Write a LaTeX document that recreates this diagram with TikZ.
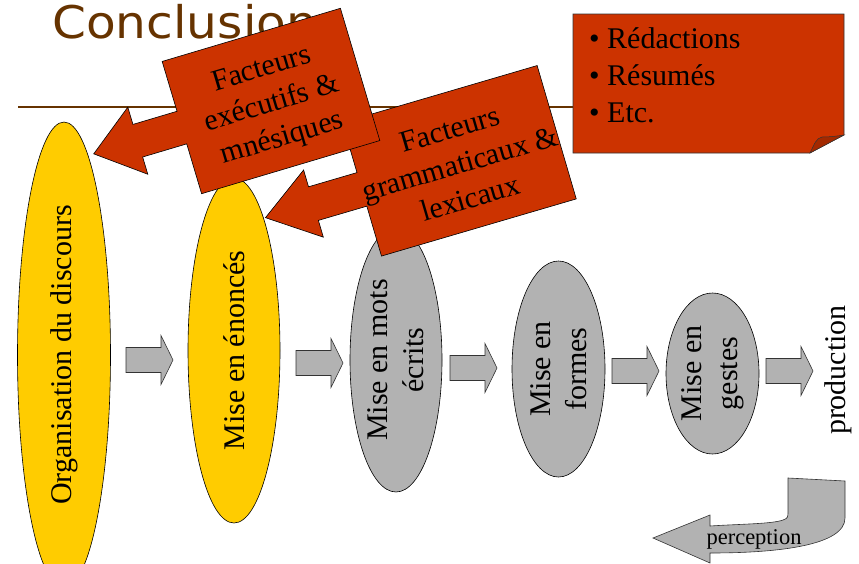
\documentclass[tikz,border=0pt]{standalone}
\usepackage{fontspec}
\setmainfont{Liberation Serif}
\newfontfamily\titlefont[FakeStretch=1.08]{DejaVu Sans}
\usetikzlibrary{shapes.geometric}
\definecolor{yellowE}{HTML}{FFCC00}
\definecolor{greyE}{HTML}{B2B2B2}
\definecolor{redC}{HTML}{CC3300}
\definecolor{foldC}{HTML}{A32900}
\definecolor{brownT}{HTML}{663300}
\definecolor{edgeG}{HTML}{333333}
\tikzset{
  ell/.style={ellipse, draw=black, line width=0.6pt, inner sep=0pt, rotate=90,
              align=center, font=\fontsize{30}{36}\selectfont},
  yell/.style={ell, fill=yellowE},
  gell/.style={ell, fill=greyE},
  blockarr/.style={fill=greyE, draw=edgeG, line width=0.6pt, line join=miter},
  calloutbox/.style={fill=redC, draw=black, line width=0.6pt},
  calltext/.style={align=center, inner sep=0pt, font=\fontsize{30}{36}\selectfont},
  bullettext/.style={anchor=base west, inner sep=0pt, font=\fontsize{30}{36}\selectfont},
  pics/blockarrow/.style={code={
    \filldraw[blockarr] (0,-12.5) -- (35,-12.5) -- (35,-24.5) -- (47,0)
      -- (35,24.5) -- (35,12.5) -- (0,12.5) -- cycle;}}
}
\begin{document}
\begin{tikzpicture}[x=1pt,y=-1pt]
\useasboundingbox (0,0) rectangle (859,563);
% title and rule
\node[anchor=base west, inner sep=0pt, text=brownT, font=\titlefont\fontsize{45}{50}\selectfont] (title) at (52,38) {Conclusions};
\draw[brownT, line width=1.5pt] (18,107) coordinate (r0) -- (820,107) coordinate (r1);
% ellipses
\node[yell, minimum width=466, minimum height=93] (e1) at (64,355) {Organisation du discours};
\node[yell, minimum width=345, minimum height=92] (e2) at (234,350.5) {Mise en énoncés};
\node[gell, minimum width=264, minimum height=92] (e3) at (396,360) {Mise en mots\\écrits};
\node[gell, minimum width=216, minimum height=93] (e4) at (558.5,369) {Mise en\\formes};
\node[gell, minimum width=161, minimum height=93] (e5) at (712.5,373.5) {Mise en\\gestes};
\node[rotate=90, inner sep=0pt, font=\fontsize{30}{36}\selectfont] (prod) at (838,370) {production};
% block arrows
\pic (a1) at (126,360) {blockarrow};
\pic (a2) at (296,363) {blockarrow};
\pic (a3) at (450,368) {blockarrow};
\pic (a4) at (612,371) {blockarrow};
\pic (a5) at (766,371) {blockarrow};
% note box with folded corner
\filldraw[fill=redC, draw=edgeG, line width=0.6pt] (573,14) -- (844,14) -- (844,135) -- (810,153) -- (573,153) -- cycle;
\filldraw[fill=foldC, draw=edgeG, line width=0.5pt] (810,153) .. controls (814,145) and (816,138) .. (822,137) .. controls (830,137) and (838,136) .. (844,135) -- cycle;
\node[bullettext] (b1) at (589,48) {• Rédactions};
\node[bullettext] (b2) at (589,85) {• Résumés};
\node[bullettext] (b3) at (589,122) {• Etc.};
% callout 2
\begin{scope}[shift={(459.3,160.8)}, rotate=16.35]
\filldraw[calloutbox] (-101.5,-69.5) -- (101.5,-69.5) -- (101.5,69.5) -- (-101.5,69.5)
  -- (-101.5,17.5) -- (-152,17.5) -- (-152,35) -- (-202,0) -- (-152,-35)
  -- (-152,-17.5) -- (-101.5,-17.5) -- cycle;
\node[calltext, rotate=16.35] (c2) at (0,3) {Facteurs\\grammaticaux \&\\lexicaux};
\end{scope}
% callout 1
\begin{scope}[shift={(271,101)}, rotate=16.6]
\filldraw[calloutbox] (-93,-69) -- (93,-69) -- (93,69) -- (-93,69)
  -- (-93,17) -- (-139,17) -- (-139,35) -- (-185,0) -- (-139,-35)
  -- (-139,-17) -- (-93,-17) -- cycle;
\node[calltext, rotate=16.6] (c1) at (0,4) {Facteurs\\exécutifs \&\\mnésiques};
\end{scope}
% perception arrow
\filldraw[fill=greyE, draw=edgeG, line width=0.6pt] (653,538) -- (710,515) -- (710,526)
  .. controls (740,524) and (772,524) .. (783,520) .. controls (788,518) .. (788,510)
  -- (788,478) -- (845,481) -- (845,518)
  .. controls (845,545) and (780,553) .. (710,553) -- (710,563) -- cycle;
\node[anchor=base, inner sep=0pt, font=\fontsize{22.5}{26}\selectfont] (perc) at (754,544) {perception};
\end{tikzpicture}
\end{document}
